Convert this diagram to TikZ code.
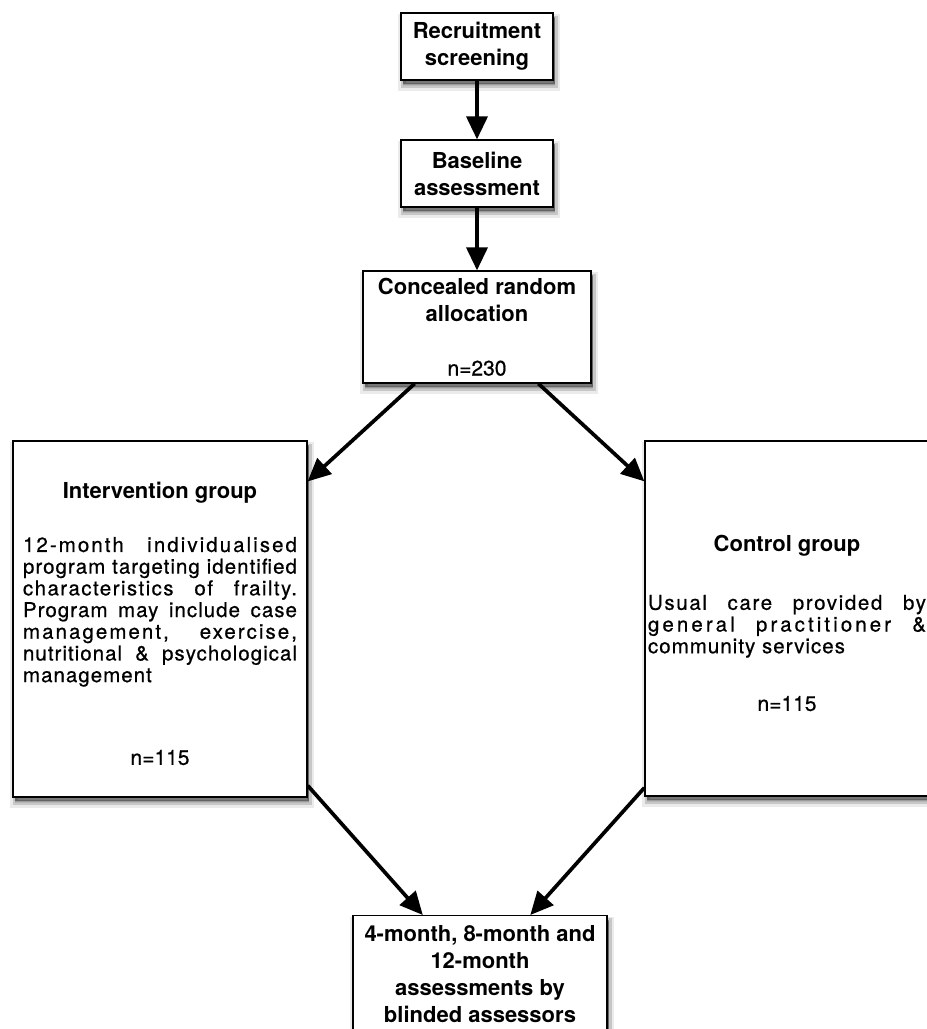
\documentclass[tikz,border=0pt]{standalone}
\usepackage{fontspec}
\setmainfont{TeX Gyre Heros}
\newfontfamily\bodyfam[LetterSpace=5,FakeBold=0.6]{TeX Gyre Heros}
\newfontfamily\numfam[FakeBold=0.6]{TeX Gyre Heros}
\usetikzlibrary{arrows.meta,shadows,calc}
\setlength{\parindent}{0pt}
\newcommand{\ttlfont}{\fontsize{22}{27}\selectfont\bfseries}
\newcommand{\bdyfont}{\bodyfam\fontsize{20.5}{21.7}\selectfont}
\newcommand{\nfont}{\numfam\fontsize{21}{21.7}\selectfont\mdseries}
\newcommand{\ls}[2]{{\addfontfeature{LetterSpace=#1}#2}}
\tikzset{
  softshadow/.style={
    general shadow={shadow xshift=2pt, shadow yshift=-6pt, fill=black, draw=black, line width=10pt, opacity=0.08},
    general shadow={shadow xshift=2pt, shadow yshift=-5pt, fill=black, draw=black, line width=5pt, opacity=0.15},
    general shadow={shadow xshift=2pt, shadow yshift=-4pt, fill=black, opacity=0.35}},
  box/.style={draw=black, line width=1.3pt, fill=white, softshadow, inner sep=0pt, align=center, font=\ttlfont},
  groupbox/.style={draw=black, line width=1.3pt, fill=white, softshadow, inner ysep=0pt, align=justify},
  arr/.style={line width=3.7pt, -{Triangle[length=23pt,width=21pt]}},
}
\begin{document}
\begin{tikzpicture}[x=1pt,y=-1pt]
\path[use as bounding box] (0,0) rectangle (927,1029);
\clip (0,0) rectangle (927,1029);
\fill[white] (0,0) rectangle (927,1029);

\node[box, minimum width=152pt, minimum height=67pt] (b1) at (477,46.5) {Recruitment\\screening};
\node[box, minimum width=152pt, minimum height=67pt] (b2) at (477,173.5) {Baseline\\assessment};
\node[box, minimum width=228pt, minimum height=112pt] (b3) at (477,327) {Concealed random\\allocation\\[27pt]{\nfont n=230}};

\node[groupbox, text width=274pt, inner xsep=10pt, minimum height=356pt] (L) at (160,619) {%
\begin{minipage}{274pt}
\vspace*{9pt}
{\centering\ttlfont Intervention group\par}
\vspace{32pt}
{\bdyfont \ls{10}{12-month individualised}\linebreak program targeting identified\linebreak \ls{7}{characteristics of frailty.}\linebreak Program may include case\linebreak \ls{10}{management, exercise,}\linebreak nutritional \& psychological\linebreak management\par}
\vspace{61pt}
{\centering\nfont n=115\par}
\end{minipage}};

\node[groupbox, text width=294pt, inner xsep=3pt, minimum height=355pt] (R) at (795,618.5) {%
\begin{minipage}{278pt}
\vspace*{9pt}
{\centering\ttlfont Control group\par}
\vspace{37pt}
{\bdyfont \ls{8}{Usual care provided by}\linebreak \ls{15}{general practitioner \&}\linebreak community services\par}
\vspace{36pt}
{\centering\nfont n=115\par}
\end{minipage}};

\node[box, minimum width=254pt, inner ysep=10pt, anchor=north] (B) at (480,915) {4-month, 8-month and\\12-month\\assessments by\\blinded assessors};

\draw[arr] (b1) -- (b2);
\draw[arr] (b2) -- (b3);
\draw[arr] ($(b3.south west)!0.228!(b3.south east)$) -- ($(L.north east)!0.115!(L.south east)$);
\draw[arr] ($(b3.south west)!0.768!(b3.south east)$) -- ($(R.north west)!0.115!(R.south west)$);
\draw[arr] ($(L.north east)!0.966!(L.south east)$) -- ($(B.north west)!0.276!(B.north east)$);
\draw[arr] ($(R.north west)!0.975!(R.south west)$) -- ($(B.north west)!0.697!(B.north east)$);
\end{tikzpicture}
\end{document}
